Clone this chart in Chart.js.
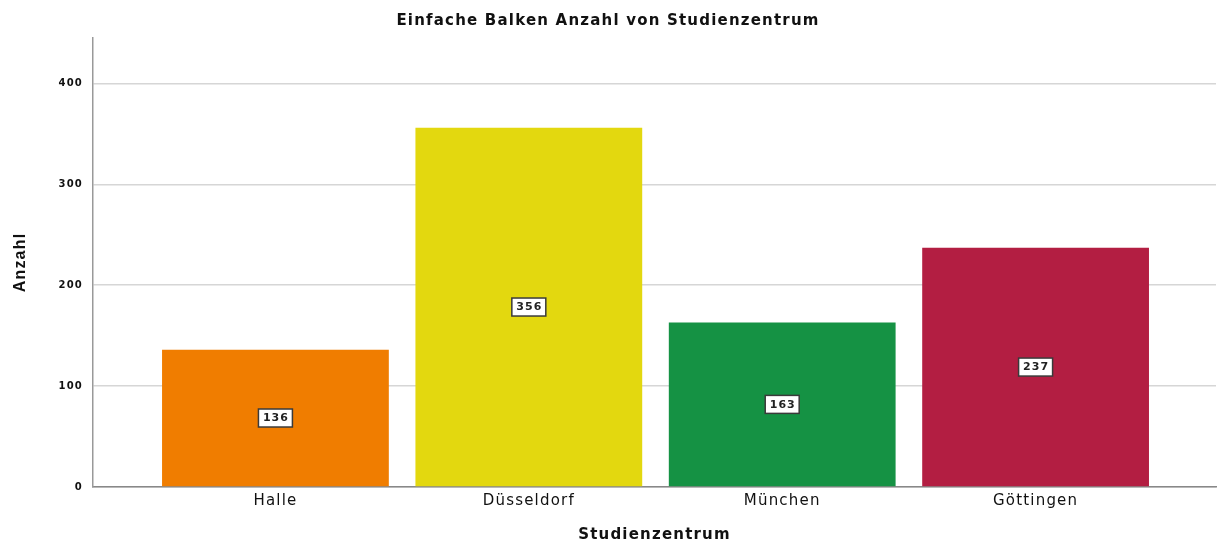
<!DOCTYPE html>
<html>
<head>
<meta charset="utf-8">
<script src="https://cdn.jsdelivr.net/npm/chart.js@4.4.1/dist/chart.umd.min.js"></script>
<style>
  html, body { margin: 0; padding: 0; background: #fff; }
  #wrap { width: 1217px; height: 544px; position: relative; }
</style>
</head>
<body>
<div id="wrap"><canvas id="barChart"></canvas></div>
<script>
// Data
const centres = ['Halle', 'Düsseldorf', 'München', 'Göttingen'];
const counts = [136, 356, 163, 237];
const barColours = ['#f07d00', '#e3d80f', '#159244', '#b31e42'];
const yTicks = [0, 100, 200, 300, 400];

// Draws the white value boxes in the middle of each bar
const valueBoxes = {
    id: 'valueBoxes',
    afterDatasetsDraw(chart) {
        const ctx = chart.ctx;
        const meta = chart.getDatasetMeta(0);
        ctx.save();
        ctx.font = 'bold 11px "DejaVu Sans"';
        ctx.letterSpacing = '1px';
        ctx.textAlign = 'center';
        ctx.textBaseline = 'middle';
        meta.data.forEach((bar, i) => {
            const { x, y, base } = bar.getProps(['x', 'y', 'base'], true);
            const cy = (y + base) / 2;
            const text = String(counts[i]);
            const w = ctx.measureText(text).width + 8;
            const h = 18;
            ctx.fillStyle = '#ffffff';
            ctx.fillRect(x - w / 2, cy - h / 2, w, h);
            ctx.strokeStyle = '#3a3a3a';
            ctx.lineWidth = 1.5;
            ctx.strokeRect(x - w / 2, cy - h / 2, w, h);
            ctx.fillStyle = '#222';
            ctx.fillText(text, x + 0.5, cy + 0.5);
        });
        ctx.restore();
    }
};

// Wider text spacing for all the chart's labels
const spacing = {
    id: 'spacing',
    beforeDraw(chart) {
        chart.ctx.letterSpacing = '1.2px';
    }
};

const ctx = document.getElementById('barChart').getContext('2d');

new Chart(ctx, {
    type: 'bar',
    data: {
        datasets: [{
            data: counts.map((v, i) => ({ x: i, y: v })),
            backgroundColor: barColours,
            borderWidth: 0,
            categoryPercentage: 1,
            barPercentage: 0.895
        }]
    },
    options: {
        responsive: true,
        maintainAspectRatio: false,
        animation: false,
        layout: {
            padding: { left: 0, right: 1, top: 0, bottom: 0 }
        },
        plugins: {
            legend: { display: false },
            tooltip: { enabled: false },
            title: {
                display: true,
                text: 'Einfache Balken Anzahl von Studienzentrum',
                color: '#111',
                font: { family: '"DejaVu Sans"', size: 15, weight: 'bold' },
                padding: { top: 12, bottom: 8 }
            }
        },
        scales: {
            x: {
                type: 'linear',
                offset: false,
                min: -0.72,
                max: 3.712,
                afterBuildTicks: scale => {
                    scale.ticks = centres.map((_, i) => ({ value: i }));
                },
                afterFit: scale => {
                    scale.height = 57;
                },
                ticks: {
                    callback: value => centres[value],
                    color: '#111',
                    padding: 5,
                    font: { family: '"DejaVu Sans"', size: 15 }
                },
                grid: { display: false, drawTicks: false },
                border: { display: true, color: '#888', width: 1.5 },
                title: {
                    display: true,
                    text: 'Studienzentrum',
                    color: '#111',
                    font: { family: '"DejaVu Sans"', size: 15, weight: 'bold' },
                    padding: { top: 0, bottom: 0 }
                }
            },
            y: {
                min: 0,
                max: 445,
                afterBuildTicks: scale => {
                    scale.ticks = yTicks.map(v => ({ value: v }));
                },
                afterFit: scale => {
                    scale.width = 93;
                },
                ticks: {
                    color: '#111',
                    padding: 10,
                    font: { family: '"DejaVu Sans"', size: 10, weight: 'bold' }
                },
                grid: {
                    color: '#d6d6d6',
                    lineWidth: 1.5,
                    drawTicks: false
                },
                border: { display: true, color: '#999', width: 1.5 },
                title: {
                    display: true,
                    text: 'Anzahl',
                    color: '#111',
                    font: { family: '"Liberation Sans Narrow", "Liberation Sans"', size: 16, weight: 'bold' },
                    padding: { top: 11, bottom: 0 }
                }
            }
        }
    },
    plugins: [spacing, valueBoxes]
});
</script>
</body>
</html>
